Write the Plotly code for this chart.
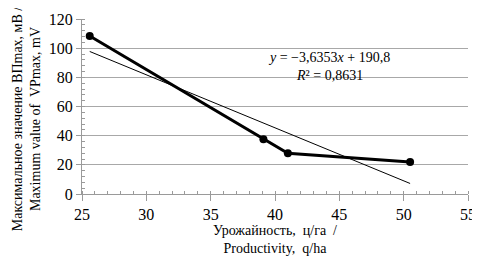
import plotly.graph_objects as go

x_vals = [25.6, 39.1, 41.0, 50.5]
y_vals = [108.3, 37.5, 28.0, 22.0]
slope = -3.6353
intercept = 190.8
trend_x = [25.6, 50.5]
x_ticks = [25, 30, 35, 40, 45, 50, 55]
y_ticks = [0, 20, 40, 60, 80, 100, 120]

trend_y = [slope * v + intercept for v in trend_x]

font_family = "Liberation Serif"
fig = go.Figure()
fig.add_trace(go.Scatter(x=trend_x, y=trend_y, mode="lines",
                         line=dict(color="black", width=1), showlegend=False,
                         cliponaxis=False))
fig.add_trace(go.Scatter(x=x_vals, y=y_vals, mode="lines+markers",
                         line=dict(color="black", width=3),
                         marker=dict(color="black", size=8), showlegend=False,
                         cliponaxis=False))

# page body has an 8px margin; size the figure so the plot area lands where the reference has it
fig.update_layout(
    width=472, height=258,
    margin=dict(l=74, r=12, t=11, b=72),
    paper_bgcolor="white", plot_bgcolor="white",
    font=dict(family=font_family, color="black"),
    xaxis=dict(range=[25, 55], tickvals=x_ticks, showgrid=False, automargin=False,
               showline=True, linecolor="#9a9a9a", linewidth=1,
               ticks="outside", ticklen=6, tickcolor="#9a9a9a",
               ticklabeloverflow="allow",
               minor=dict(dtick=1, ticks="inside", ticklen=3, tickcolor="#9a9a9a"),
               tickfont=dict(size=16, family=font_family), zeroline=False),
    yaxis=dict(range=[0, 120], tickvals=y_ticks, showgrid=True, automargin=False,
               gridcolor="#a8a8a8", gridwidth=1,
               showline=True, linecolor="#9a9a9a", linewidth=1,
               ticks="outside", ticklen=5, tickcolor="#9a9a9a",
               minor=dict(dtick=4, ticks="inside", ticklen=3, tickcolor="#9a9a9a"),
               tickfont=dict(size=16, family=font_family), zeroline=False),
    annotations=[
        dict(text="<i>y</i> = −3,6353<i>x</i> + 190,8<br><i>R</i>² = 0,8631",
             x=44.2, y=87.2, xref="x", yref="y", showarrow=False,
             font=dict(size=14, family=font_family), align="center",
             xanchor="center", yanchor="middle"),
        dict(text="Урожайность,  ц/га  /<br>Productivity,  q/ha",
             x=0.5, y=0, xref="paper", yref="paper", yshift=-27,
             showarrow=False, xanchor="center", yanchor="top",
             font=dict(size=14, family=font_family), align="center"),
        dict(text="Максимальное значение ВПmax, мВ /<br>Maximum value of  VPmax, mV",
             x=0, y=0.43, xref="paper", yref="paper", xshift=-37,
             showarrow=False, xanchor="right", yanchor="middle", textangle=-90,
             font=dict(size=14, family=font_family), align="center"),
    ],
)
fig.write_html("out.html")
